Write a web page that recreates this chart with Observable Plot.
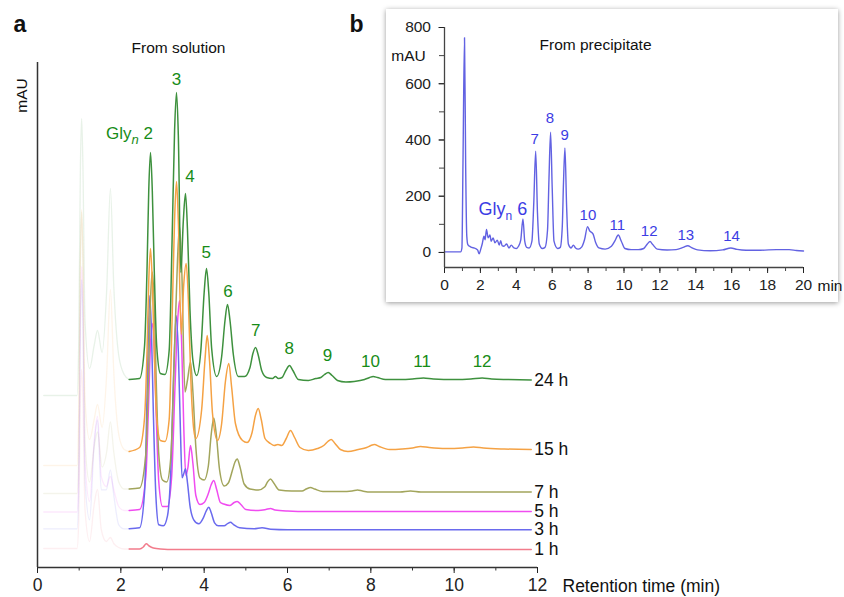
<!DOCTYPE html>
<html>
<head>
<meta charset="utf-8">
<script src="https://cdn.jsdelivr.net/npm/d3@7"></script>
<script src="https://cdn.jsdelivr.net/npm/@observablehq/plot@0.6"></script>
<style>
  body { margin: 0; background: #fff; }
  #wrap { position: relative; width: 844px; height: 597px; overflow: hidden; background: #fff; }
  #inset { position: absolute; left: 386px; top: 9px; width: 452px; height: 293px; background: #fff;
           box-shadow: 0 1px 5px rgba(0,0,0,0.4); }
  #inset svg, #wrap > svg { display: block; }
</style>
</head>
<body>
<div id="wrap"><div id="inset"></div></div>
<script>
// ---------- Panel a: HPLC traces "From solution" ----------
const seriesNames = ["24 h", "15 h", "7 h", "5 h", "3 h", "1 h"];
const seriesColors = ["#3e913e", "#f5a244", "#a2a55c", "#f04cf0", "#6a6aee", "#f27c8c"];
// vertical offset (stacking) of each trace, in plotted units
const baselines = [187, 118, 75.5, 56, 37.7, 18];
// traces: [retention time (min), signal above the trace's baseline]
const trace24h = [[0.15,-15],[0.95,-15],[0.99,40],[1.03,215],[1.06,262],[1.09,215],[1.14,60],[1.25,12],[1.36,35],[1.44,50],[1.55,28],[1.66,90],[1.75,192],[1.83,95],[1.95,25],[2.08,6],[2.2,1],[2.45,2],[2.57,35],[2.63,114],[2.67,190],[2.712,228],[2.755,190],[2.8,114],[2.86,35],[2.95,7],[3.06,6],[3.16,30],[3.23,140],[3.29,250],[3.336,288],[3.38,245],[3.44,108],[3.5,160],[3.552,187],[3.6,150],[3.66,70],[3.73,20],[3.82,5],[3.92,30],[4.0,88],[4.056,112],[4.11,88],[4.18,32],[4.3,4],[4.42,24],[4.5,60],[4.56,76],[4.62,60],[4.7,26],[4.82,4],[4.97,4],[5.1,13],[5.17,27],[5.232,33],[5.3,25],[5.38,10],[5.5,3],[5.64,2],[5.71,4],[5.78,2],[5.87,3],[5.96,10],[6.048,15],[6.13,10],[6.26,1],[6.5,0],[6.68,2],[6.8,3],[6.89,6],[6.977,8],[7.07,5],[7.2,0],[7.4,-1.5],[7.6,-1],[7.85,1],[7.97,3],[8.057,4],[8.16,3],[8.35,1],[8.7,1],[9.0,1.5],[9.264,2.5],[9.5,1.5],[10.0,1],[10.4,1.5],[10.673,2.5],[10.9,1.5],[11.3,1],[11.85,0.5]];
const trace15h = [[0.15,-16],[0.95,-16],[0.99,40],[1.03,195],[1.06,240],[1.09,195],[1.14,50],[1.25,10],[1.36,30],[1.44,45],[1.55,22],[1.66,75],[1.75,160],[1.83,78],[1.95,15],[2.08,0],[2.2,-2],[2.45,2],[2.57,32],[2.63,100],[2.67,168],[2.712,201],[2.755,168],[2.8,100],[2.86,32],[2.95,9],[3.06,8],[3.16,30],[3.23,130],[3.29,230],[3.336,268],[3.38,228],[3.45,115],[3.51,165],[3.569,186],[3.62,150],[3.68,70],[3.75,20],[3.8,11],[3.94,40],[4.02,90],[4.073,114],[4.13,88],[4.2,36],[4.32,9],[4.42,26],[4.51,68],[4.591,86],[4.66,62],[4.75,26],[4.92,9],[5.03,7],[5.15,17],[5.23,34],[5.297,41],[5.37,30],[5.46,11],[5.59,6],[5.68,4],[5.77,5],[5.86,4],[5.97,11],[6.072,19],[6.17,12],[6.3,2],[6.5,-1],[6.72,1],[6.87,4],[6.97,8],[7.049,10],[7.14,6],[7.27,0],[7.45,-2],[7.7,0],[7.9,2],[8.0,4],[8.088,5],[8.2,3],[8.45,0],[8.75,0.5],[9.0,1.5],[9.192,3],[9.4,2],[9.8,1],[10.2,1.5],[10.464,2.5],[10.7,1.5],[11.2,0.5],[11.85,0]];
const trace7h = [[0.15,-1.5],[0.95,-1.5],[0.99,40],[1.03,230],[1.06,280],[1.09,230],[1.14,50],[1.25,10],[1.36,45],[1.44,60],[1.55,25],[1.66,40],[1.75,70],[1.83,40],[1.95,10],[2.08,3],[2.2,3],[2.45,4],[2.6,38],[2.66,110],[2.71,190],[2.753,220],[2.8,190],[2.85,110],[2.91,38],[3.0,12],[3.1,10],[3.2,35],[3.28,130],[3.36,232],[3.408,266],[3.46,225],[3.54,100],[3.6,112],[3.672,130],[3.73,100],[3.8,45],[3.9,14],[4.0,12],[4.1,26],[4.17,58],[4.231,74],[4.29,58],[4.37,22],[4.48,6],[4.58,9],[4.68,22],[4.74,30],[4.793,33],[4.86,25],[4.96,8],[5.1,3],[5.3,2],[5.45,5],[5.52,10],[5.592,13],[5.67,9],[5.8,2],[6.1,1],[6.35,1],[6.45,3],[6.552,4.5],[6.65,3],[6.85,0.5],[7.3,0.5],[7.55,1],[7.68,2],[7.8,1],[8.0,0],[8.7,0],[8.952,1],[9.2,0],[11.85,0]];
const trace5h = [[0.15,-0.5],[0.95,-0.5],[0.99,40],[1.03,200],[1.06,245],[1.09,200],[1.14,50],[1.25,10],[1.36,70],[1.44,95],[1.53,35],[1.65,25],[1.75,35],[1.83,22],[1.95,5],[2.08,1],[2.2,1],[2.45,2],[2.6,35],[2.66,100],[2.71,165],[2.753,188],[2.8,165],[2.85,95],[2.91,30],[3.0,5],[3.12,5],[3.22,35],[3.3,125],[3.36,188],[3.408,211],[3.46,168],[3.51,85],[3.56,36],[3.61,44],[3.672,66],[3.73,48],[3.8,16],[3.9,7],[4.0,9],[4.1,18],[4.17,27],[4.231,31],[4.3,22],[4.39,9],[4.47,7.5],[4.62,6],[4.72,9],[4.793,10],[4.88,7],[5.0,2],[5.3,1],[5.48,2],[5.592,3],[5.7,1.5],[6.0,0.5],[6.5,0],[11.85,0]];
const trace3h = [[0.15,1],[0.95,1],[0.99,40],[1.03,205],[1.06,250],[1.09,205],[1.14,50],[1.25,10],[1.36,85],[1.44,110],[1.53,40],[1.65,40],[1.75,60],[1.83,35],[1.95,5],[2.08,1],[2.2,1],[2.45,2],[2.57,38],[2.62,115],[2.66,195],[2.695,234],[2.735,198],[2.78,118],[2.84,35],[2.91,5],[3.02,4],[3.12,14],[3.2,60],[3.27,160],[3.329,214],[3.38,178],[3.43,100],[3.47,52],[3.51,56],[3.552,61],[3.6,47],[3.66,24],[3.75,10],[3.87,6],[3.98,12],[4.05,19],[4.111,22.5],[4.17,17],[4.25,7],[4.34,4],[4.48,4],[4.57,6.5],[4.632,7.5],[4.7,5.5],[4.85,2],[5.2,1],[5.39,2],[5.6,0.5],[6.0,0],[11.85,0]];
const trace1h = [[0.15,1],[0.95,1],[0.99,30],[1.03,150],[1.06,180],[1.09,150],[1.14,40],[1.25,8],[1.36,45],[1.44,60],[1.53,20],[1.65,8],[1.75,12],[1.83,6],[1.95,2],[2.08,0.5],[2.2,0.5],[2.45,0.5],[2.54,2.5],[2.61,5.7],[2.68,3.5],[2.78,1.5],[2.95,0.5],[3.3,0],[11.85,0]];
const traces = [trace24h, trace15h, trace7h, trace5h, trace3h, trace1h];
const drawOrder = [5, 3, 4, 2, 1, 0];
const fadeEnd = 2.2;   // the early part of each run is shown faded

const xTicks = [0, 2, 4, 6, 8, 10, 12];
const xMinorTicks = [0, 1, 2, 3, 4, 5, 6, 7, 8, 9, 10, 11, 12];

const peakLabels = ["Gly_n 2", "3", "4", "5", "6", "7", "8", "9", "10", "11", "12"];
const peakLabelT = [2.77, 3.336, 3.66, 4.05, 4.57, 5.24, 6.04, 6.96, 7.99, 9.23, 10.67];
const peakLabelY = [434, 488, 391, 315, 276, 237, 219, 211.5, 205.5, 205.5, 205.5];
const seriesLabelT = 11.92;

// ---------- Panel b: "From precipitate" ----------
const precipitate = [[0.0,2],[0.9,2],[0.97,15],[1.03,320],[1.115,764],[1.18,300],[1.24,60],[1.3,28],[1.45,20],[1.73,14],[1.85,8],[1.93,-5],[2.02,12],[2.1,30],[2.2,58],[2.26,45],[2.34,82],[2.43,52],[2.53,62],[2.6,40],[2.71,52],[2.81,34],[2.94,44],[3.05,26],[3.13,42],[3.21,24],[3.31,22],[3.46,30],[3.59,16],[3.72,26],[3.87,16],[4.01,14],[4.12,22],[4.25,45],[4.37,119],[4.47,40],[4.58,18],[4.72,16],[4.87,40],[4.97,170],[5.08,360],[5.18,140],[5.28,30],[5.45,14],[5.6,18],[5.74,80],[5.82,260],[5.91,428],[6.0,230],[6.1,40],[6.3,14],[6.45,18],[6.56,90],[6.63,250],[6.71,372],[6.8,170],[6.9,30],[7.05,16],[7.18,26],[7.3,16],[7.45,12],[7.65,20],[7.8,45],[7.97,92],[8.08,78],[8.28,65],[8.42,35],[8.6,16],[8.95,12],[9.3,22],[9.5,42],[9.68,62],[9.85,40],[10.05,14],[10.4,10],[10.8,10],[11.1,14],[11.3,30],[11.45,39],[11.6,28],[11.85,12],[12.4,9],[12.9,10],[13.3,18],[13.55,24],[13.8,16],[14.1,9],[14.8,6],[15.5,9],[15.95,16],[16.3,11],[16.8,8],[17.6,8],[18.5,10],[19.2,10],[19.6,7],[20.0,5]];
const insetYDomain = [-53.5, 800];
const insetYTicks = [0, 200, 400, 600, 800];
const insetYMinorTicks = [0, 100, 200, 300, 400, 500, 600, 700, 800];
const insetXTicks = [0, 2, 4, 6, 8, 10, 12, 14, 16, 18, 20];
const insetXMinorTicks = [0, 1, 2, 3, 4, 5, 6, 7, 8, 9, 10, 11, 12, 13, 14, 15, 16, 17, 18, 19, 20];
const insetLabels = ["Gly_n 6", "7", "8", "9", "10", "11", "12", "13", "14"];
const insetLabelT = [4.61, 5.02, 5.87, 6.7, 7.99, 9.63, 11.4, 13.44, 15.99];
const insetLabelY = [152, 404, 476, 416, 131, 98, 75, 63, 59];

// ---------- build ----------
const FONT = "'Liberation Sans', Arial, Helvetica, sans-serif";
const rows = drawOrder.flatMap(i => traces[i].map(([t, s]) => ({t, v: s + baselines[i], series: seriesNames[i]})));
const fadedRows = rows.filter(d => d.t <= fadeEnd);
const solidRows = rows.filter(d => d.t >= fadeEnd);
const labelRows = peakLabels.map((text, i) => ({text, t: peakLabelT[i], v: peakLabelY[i]}));
const seriesRows = seriesNames.map((name, i) => ({name, v: baselines[i]}));
const mid = {textAnchor: "middle", lineAnchor: "middle", fill: "#111"};

const green = "#178c17";
const main = Plot.plot({
  width: 844, height: 597,
  marginLeft: 37, marginRight: 307, marginTop: 62, marginBottom: 30,
  x: {domain: [0, 12]},
  y: {domain: [0, 505], axis: null},
  color: {domain: seriesNames, range: seriesColors},
  style: {fontFamily: FONT, background: "#fff", overflow: "visible"},
  marks: [
    Plot.line(fadedRows, {x: "t", y: "v", z: "series", stroke: "series", strokeWidth: 1.3, strokeOpacity: 0.12, curve: "monotone-x"}),
    Plot.line(solidRows, {x: "t", y: "v", z: "series", stroke: "series", strokeWidth: 1.5, curve: "monotone-x"}),
    Plot.axisX({ticks: xMinorTicks, tickSize: 3.5, tickFormat: () => "", label: null, color: "#333"}),
    Plot.axisX({ticks: xTicks, tickSize: 6, tickPadding: 5, fontSize: 17.5, label: null, color: "#222"}),
    Plot.ruleX([0], {stroke: "#333", strokeWidth: 1.5}),
    Plot.ruleY([0], {stroke: "#333", strokeWidth: 1.5}),
    Plot.text(labelRows.filter(d => d.text.startsWith("Gly")), {x: "t", y: "v", text: "text", fill: green, fontSize: 17, textAnchor: "end"}),
    Plot.text(labelRows.filter(d => !d.text.startsWith("Gly")), {x: "t", y: "v", text: "text", fill: green, fontSize: 17}),
    Plot.text(seriesRows, {x: () => seriesLabelT, y: "v", text: "name", fill: "#111", fontSize: 17.5, textAnchor: "start"}),
    Plot.text(["a"], {...mid, frameAnchor: "top-left", dx: -24, dy: -38, fontSize: 23, fontWeight: "bold", textAnchor: "start"}),
    Plot.text(["b"], {...mid, frameAnchor: "top-left", dx: 312, dy: -38, fontSize: 23, fontWeight: "bold", textAnchor: "start"}),
    Plot.text(["From solution"], {...mid, frameAnchor: "top-left", dx: 141, dy: -14, fontSize: 15.5}),
    Plot.text(["mAU"], {...mid, frameAnchor: "top-left", dx: -15, dy: 33, fontSize: 15.5, rotate: -90}),
    Plot.text(["Retention time (min)"], {...mid, frameAnchor: "bottom-right", dx: 25, dy: 19, fontSize: 17.5, textAnchor: "start"})
  ]
});

const blue = "#6262e2";
const blueText = "#3c3ce4";
const insetRows = insetLabels.map((text, i) => ({text, t: insetLabelT[i], v: insetLabelY[i]}));
const inset = Plot.plot({
  width: 452, height: 293,
  marginLeft: 58, marginRight: 35, marginTop: 18, marginBottom: 35,
  x: {domain: [0, 20]},
  y: {domain: insetYDomain},
  style: {fontFamily: FONT, background: "#fff", overflow: "visible"},
  marks: [
    Plot.line(precipitate, {x: d => d[0], y: d => d[1], stroke: blue, strokeWidth: 1.4, curve: "monotone-x"}),
    Plot.axisY({ticks: insetYMinorTicks, tickSize: 5, tickFormat: () => "", label: null, color: "#444"}),
    Plot.axisY({ticks: insetYTicks, tickSize: 5.5, tickPadding: 8, fontSize: 15.5, label: null, color: "#222"}),
    Plot.axisX({ticks: insetXMinorTicks, tickSize: 4, tickFormat: () => "", label: null, color: "#444"}),
    Plot.axisX({ticks: insetXTicks, tickSize: 6, tickPadding: 5, fontSize: 15.5, label: null, color: "#222"}),
    Plot.ruleX([0], {stroke: "#444", strokeWidth: 1.3}),
    Plot.ruleY([insetYDomain[0]], {stroke: "#444", strokeWidth: 1.3}),
    Plot.text(insetRows.filter(d => d.text.startsWith("Gly")), {x: "t", y: "v", text: "text", fill: blueText, fontSize: 18, textAnchor: "end"}),
    Plot.text(insetRows.filter(d => !d.text.startsWith("Gly")), {x: "t", y: "v", text: "text", fill: blueText, fontSize: 15}),
    Plot.text(["From precipitate"], {...mid, frameAnchor: "top-left", dx: 151, dy: 18, fontSize: 15.5}),
    Plot.text(["mAU"], {...mid, frameAnchor: "top-left", dx: -36, dy: 29, fontSize: 15.5}),
    Plot.text(["min"], {...mid, frameAnchor: "bottom-right", dx: 14, dy: 19, fontSize: 15.5, textAnchor: "start"})
  ]
});

// subscript "n" in the "Gly_n" labels
function subscriptGly(svg, italic, subSize, shift) {
  const ns = "http://www.w3.org/2000/svg";
  svg.querySelectorAll("text").forEach(el => {
    const s = el.textContent;
    if (!s.startsWith("Gly_")) return;
    const [pre, post] = s.split("_");
    el.textContent = "";
    const a = document.createElementNS(ns, "tspan"); a.textContent = pre;
    const b = document.createElementNS(ns, "tspan"); b.textContent = post[0];
    b.setAttribute("dy", shift); b.setAttribute("font-size", subSize);
    if (italic) b.setAttribute("font-style", "italic");
    const c = document.createElementNS(ns, "tspan"); c.textContent = "\u00a0" + post.slice(1).trim();
    c.setAttribute("dy", -shift);
    el.append(a, b, c);
  });
}
subscriptGly(main, true, 13, 5);
subscriptGly(inset, false, 12, 5);

const wrap = document.getElementById("wrap");
wrap.insertBefore(main, wrap.firstChild);
document.getElementById("inset").appendChild(inset);
</script>
</body>
</html>
